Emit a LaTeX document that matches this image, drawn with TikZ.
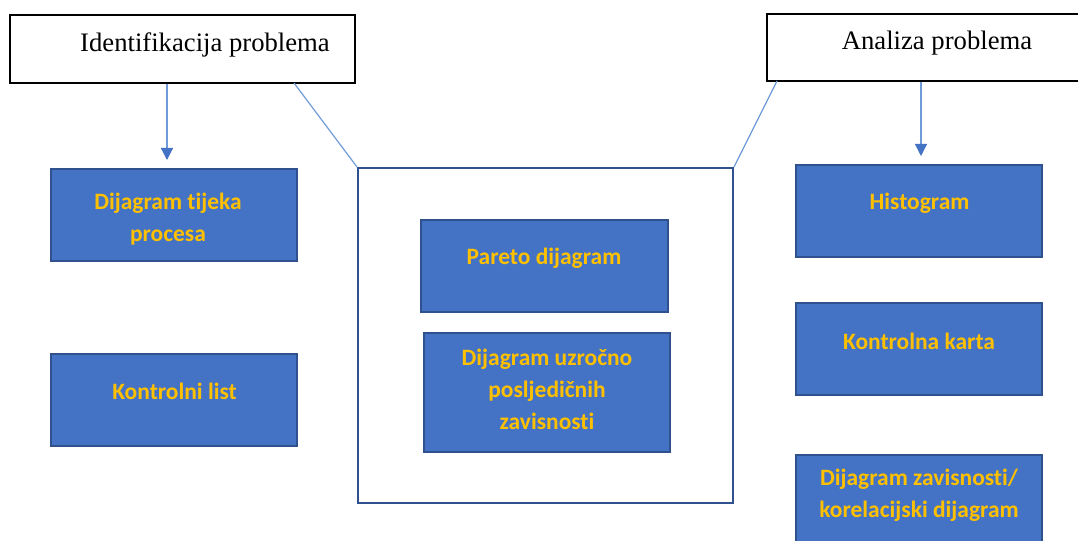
\documentclass[tikz,border=0pt]{standalone}
\usepackage{fontspec}
\setmainfont{Liberation Serif}
\newfontfamily\calib[Ligatures={NoCommon,NoRare,NoContextual}]{Carlito}
\usetikzlibrary{arrows.meta}
\definecolor{boxblue}{HTML}{4472C4}
\definecolor{boxedge}{HTML}{2F528F}
\definecolor{gold}{HTML}{FFC000}
\definecolor{lineblue}{HTML}{6F9BD8}
\begin{document}
\begin{tikzpicture}[x=0.75pt,y=-0.75pt,
  headbox/.style={draw=black,line width=0.8pt,fill=white,rectangle,inner sep=0pt},
  headtext/.style={font=\fontsize{20}{24}\selectfont,inner sep=0pt},
  bluebox/.style={draw=boxedge,line width=1.5pt,fill=boxblue,rectangle,inner sep=0pt},
  bluetext/.style={font=\calib\bfseries\fontsize{17.6}{24}\selectfont,text=gold,align=center,inner sep=0pt},
  frame/.style={draw=boxedge,line width=1.5pt,rectangle,inner sep=0pt},
  conn/.style={draw=lineblue,line width=0.9pt},
  arr/.style={conn,-{Triangle[length=9pt,width=9pt,color=boxblue]}}
]
\clip (0,0) rectangle (1078,541);
\fill[white] (0,0) rectangle (1078,541);

% header boxes
\node[headbox,minimum width=345*0.75pt,minimum height=68*0.75pt] (ident) at (182.5,49) {};
\node[headtext] (identt) at (205,45) {Identifikacija problema};
\node[headbox,minimum width=320*0.75pt,minimum height=67*0.75pt] (anal) at (927,47.5) {};
\node[headtext] (analt) at (937,43) {Analiza problema};

% middle frame
\node[frame,minimum width=375*0.75pt,minimum height=335*0.75pt] (mid) at (545.5,335.5) {};

% left boxes
\node[bluebox,minimum width=246*0.75pt,minimum height=92*0.75pt] (dtp) at (174,215) {};
\node[bluetext] (dtpt) at (168,219.5) {Dijagram tijeka\\procesa};
\node[bluebox,minimum width=246*0.75pt,minimum height=92*0.75pt] (kl) at (174,400) {};
\node[bluetext] (klt) at (174.5,391) {Kontrolni list};

% middle boxes
\node[bluebox,minimum width=247*0.75pt,minimum height=92*0.75pt] (par) at (544.5,266) {};
\node[bluetext] (part) at (544,258) {Pareto dijagram};
\node[bluebox,minimum width=246*0.75pt,minimum height=119*0.75pt] (uzr) at (547,392.5) {};
\node[bluetext] (uzrt) at (547,389) {Dijagram uzročno\\posljedičnih\\zavisnosti};

% right boxes
\node[bluebox,minimum width=246*0.75pt,minimum height=92*0.75pt] (his) at (919,211) {};
\node[bluetext] (hist) at (919.5,203) {Histogram};
\node[bluebox,minimum width=246*0.75pt,minimum height=92*0.75pt] (kk) at (919,349) {};
\node[bluetext] (kkt) at (919,341) {Kontrolna karta};
\node[bluebox,minimum width=246*0.75pt,minimum height=110*0.75pt] (dz) at (919,510) {};
\node[bluetext] (dzt) at (919,495) {Dijagram zavisnosti/\\korelacijski dijagram};

% connectors
\coordinate (tipL) at (167,160);
\coordinate (tipR) at (921,156);
\draw[arr] (ident.south -| tipL) -- (tipL);
\draw[arr] (anal.south -| tipR) -- (tipR);
\coordinate (dL) at (294,83);
\coordinate (dR) at (777,81);
\draw[conn] (dL) -- (mid.north west);
\draw[conn] (dR) -- (mid.north east);
\end{tikzpicture}
\end{document}
